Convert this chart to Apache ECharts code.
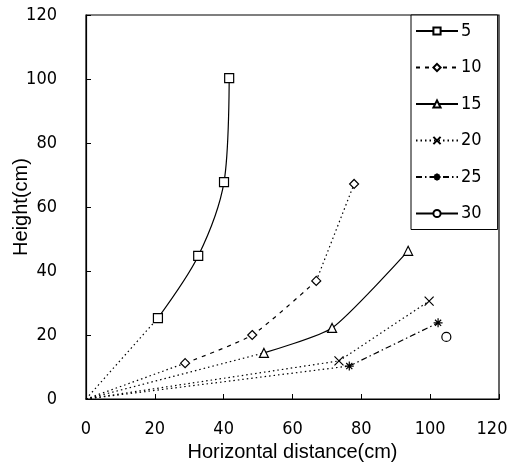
<!DOCTYPE html>
<html>
<head>
<meta charset="utf-8">
<script src="https://cdn.jsdelivr.net/npm/echarts@6/dist/echarts.min.js"></script>
<style>html,body{margin:0;padding:0;background:#fff;}#c{width:512px;height:465px;}</style>
</head>
<body>
<div id="c"></div>
<script>
// Data
const seriesNames = ['5', '10', '15', '20', '25', '30'];
const s5  = [[20.9, 25.3], [32.6, 44.7], [40.1, 67.8], [41.6, 100.3]];
const s10 = [[28.8, 11.2], [48.3, 20.0], [66.9, 36.9], [77.9, 67.2]];
const s15 = [[51.7, 14.4], [71.5, 22.2], [93.6, 46.3]];
const s20 = [[73.5, 11.9], [99.7, 30.6]];
const s25 = [[76.5, 10.3], [102.3, 23.8]];
const s30 = [[104.7, 19.4]];
const origin = [0, 0];
const xTicks = [0, 20, 40, 60, 80, 100, 120];
const yTicks = [0, 20, 40, 60, 80, 100, 120];

const FONT = 'Liberation Sans';
const NUMFONT = '"DejaVu Sans Condensed", "Liberation Sans"';
const crossPath = 'path://M0,0L10,10M10,0L0,10';
const starPath = 'path://M5,0L5,10M0,5L10,5M1.6,1.6L8.4,8.4M8.4,1.6L1.6,8.4';

function mainSeries(name, data, symbol, lineType, smooth) {
  return {
    name: name, type: 'line', data: data, symbol: symbol, symbolSize: 9,
    showSymbol: true, smooth: smooth, z: 3,
    lineStyle: { color: '#000', width: 1.2, type: lineType },
    itemStyle: { color: '#fff', borderColor: '#000', borderWidth: 1.2 }
  };
}
function helper(data, lineType) {
  return {
    name: '_h', type: 'line', data: data, symbol: 'none', silent: true, z: 2,
    lineStyle: { color: '#000', width: 1.2, type: lineType }
  };
}
const dotted = [1.5, 3];
const dashdot = [6, 3, 1.5, 3];

const series = [
  helper([origin, s5[0]], dotted),
  mainSeries('5', s5, 'rect', 'solid', 0.3),
  helper([origin, s10[0]], dotted),
  mainSeries('10', s10.slice(0, 3), 'diamond', [4, 5], 0.2),
  helper(s10.slice(2), dotted),
  mainSeries('10t', s10.slice(3), 'diamond', 'solid', false),
  helper([origin, s15[0]], dotted),
  mainSeries('15', s15, 'triangle', 'solid', 0.2),
  helper([origin, s20[0]], dotted),
  mainSeries('20', s20, crossPath, dotted, false),
  helper([origin, s25[0]], dotted),
  mainSeries('25', s25, starPath, dashdot, false),
  mainSeries('30', s30, 'circle', 'solid', false)
];

const xMax = xTicks[xTicks.length - 1];
const chart = echarts.init(document.getElementById('c'));
chart.setOption({
  animation: false,
  backgroundColor: '#fff',
  textStyle: { fontFamily: FONT, color: '#000' },
  grid: { left: 86, right: 13, top: 15, bottom: 66, containLabel: false, outerBoundsMode: 'none',
          show: true, borderColor: '#000', borderWidth: 1.2 },
  legend: {
    data: seriesNames, orient: 'vertical', left: 411, top: 15,
    padding: [7, 16, 7, 4], itemGap: 18.5, itemWidth: 42, itemHeight: 9,
    backgroundColor: '#fff', borderColor: '#000', borderWidth: 1, borderRadius: 0,
    textStyle: { fontFamily: NUMFONT, fontSize: 18, color: '#000', padding: [0, 0, 0, -2] }
  },
  xAxis: {
    type: 'value', min: xTicks[0], max: xMax, interval: 20,
    name: 'Horizontal distance(cm)', nameLocation: 'middle', nameGap: 43, nameMoveOverlap: false,
    nameTextStyle: { fontFamily: FONT, fontSize: 20, color: '#000' },
    axisLine: { lineStyle: { color: '#000', width: 1.2 } },
    axisTick: { inside: true, length: 5, lineStyle: { color: '#000' } },
    axisLabel: {
      fontFamily: NUMFONT, fontSize: 18, color: '#000', margin: 21,
      formatter: function (v) { return v === xMax ? '{m|' + v + '}' : String(v); },
      rich: { m: { fontFamily: NUMFONT, fontSize: 18, color: '#000', padding: [0, 14, 0, 0] } }
    },
    splitLine: { show: false }
  },
  yAxis: {
    type: 'value', min: yTicks[0], max: yTicks[yTicks.length - 1], interval: 20,
    name: 'Height(cm)', nameLocation: 'middle', nameGap: 55, nameMoveOverlap: false,
    nameTextStyle: { fontFamily: FONT, fontSize: 20, color: '#000' },
    axisLine: { lineStyle: { color: '#000', width: 1.2 } },
    axisTick: { inside: true, length: 5, lineStyle: { color: '#000' } },
    axisLabel: { fontFamily: NUMFONT, fontSize: 18, color: '#000', margin: 29 },
    splitLine: { show: false }
  },
  series: series
});
</script>
</body>
</html>
